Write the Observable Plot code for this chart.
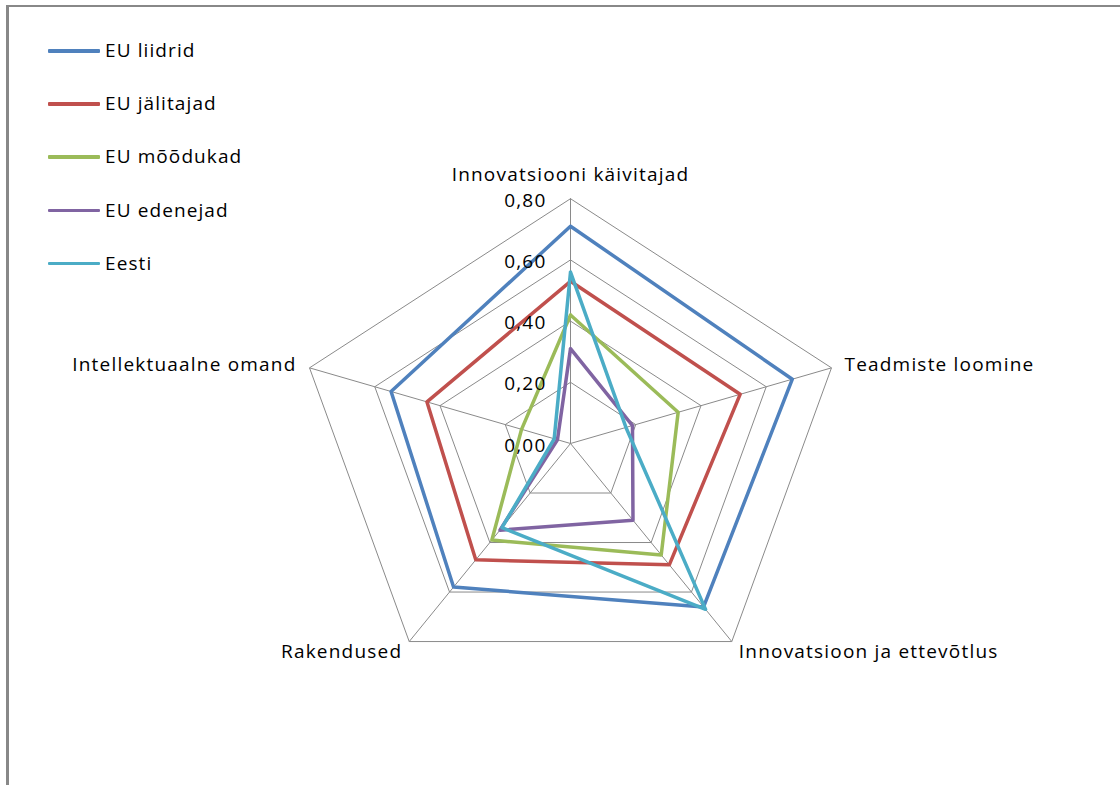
<!DOCTYPE html>
<html>
<head>
<meta charset="utf-8">
<script src="https://cdn.jsdelivr.net/npm/d3@7"></script>
<script src="https://cdn.jsdelivr.net/npm/@observablehq/plot@0.6"></script>
<style>
  html, body { margin: 0; padding: 0; background: #fff; }
  body { width: 1120px; height: 785px; position: relative; overflow: hidden; font-family: "Open Sans", sans-serif; }
  #frame { position: absolute; left: 6px; top: 5px; width: 1200px; height: 900px; border-top: 2px solid #888; border-left: 3px solid #888; pointer-events: none; }
  #chart { position: absolute; left: 0; top: 0; }
  #legend { position: absolute; left: 48px; top: 37px; }
  .item { height: 53.2px; display: flex; align-items: flex-start; }
  .item .sw { width: 52px; height: 3.5px; margin-top: 12px; margin-right: 5px; border-radius: 1px; }
  .item .lb { font-size: 19px; line-height: 26px; letter-spacing: 1.1px; color: #000; }
</style>
</head>
<body>
<div id="chart"></div>
<div id="legend"></div>
<div id="frame"></div>
<script>
// ---- data ----
const axes = ["Innovatsiooni käivitajad", "Teadmiste loomine", "Innovatsioon ja ettevõtlus", "Rakendused", "Intellektuaalne omand"];
const ticks = [0, 0.2, 0.4, 0.6, 0.8];
const tickLabels = ["0,00", "0,20", "0,40", "0,60", "0,80"];
const seriesNames = ["EU liidrid", "EU jälitajad", "EU mõõdukad", "EU edenejad", "Eesti"];
const euLiidrid   = [0.71, 0.68, 0.66, 0.58, 0.55];
const euJalitajad = [0.53, 0.52, 0.49, 0.47, 0.44];
const euMoodukad  = [0.42, 0.33, 0.45, 0.39, 0.15];
const euEdenejad  = [0.31, 0.19, 0.31, 0.35, 0.04];
const eesti       = [0.56, 0.17, 0.67, 0.34, 0.05];
const colors = ["#4F81BD", "#C0504D", "#9BBB59", "#8064A2", "#4BACC6"];

// ---- derived tables ----
const seriesValues = [euLiidrid, euJalitajad, euMoodukad, euEdenejad, eesti];
const n = axes.length;
const ang = i => (2 * Math.PI * i) / n;
const px = (r, i) => r * Math.sin(ang(i));
const py = (r, i) => r * Math.cos(ang(i));
const rMax = ticks[ticks.length - 1];

const lineData = [];
seriesNames.forEach((s, k) => {
  for (let j = 0; j <= n; j++) {
    const i = j % n;
    const v = seriesValues[k][i];
    lineData.push({series: s, x: px(v, i), y: py(v, i)});
  }
});
const gridData = [];
ticks.filter(t => t > 0).forEach(t => {
  for (let j = 0; j <= n; j++) {
    const i = j % n;
    gridData.push({t, x: px(t, i), y: py(t, i)});
  }
});
const spokes = axes.map((a, i) => ({x2: px(rMax, i), y2: py(rMax, i)}));
const tickData = ticks.map((t, i) => ({t, label: tickLabels[i]}));

// label placement styles per axis
const labelStyle = [
  {textAnchor: "middle", dx: 0, dy: -24},
  {textAnchor: "start", dx: 13, dy: -3},
  {textAnchor: "start", dx: 7, dy: 10},
  {textAnchor: "end", dx: -7, dy: 10},
  {textAnchor: "end", dx: -13, dy: -3}
];
const labelMarks = axes.map((a, i) => Plot.text([{a, x: px(rMax, i), y: py(rMax, i)}], {
  x: "x", y: "y", text: "a", fill: "#000", fontSize: 19, ...labelStyle[i]
}));

const cx = 570, cy = 443, kx = 343, ky = 306;
const chart = Plot.plot({
  width: 1120,
  height: 785,
  margin: 0,
  x: {domain: [-1, 1], range: [cx - kx, cx + kx], axis: null},
  y: {domain: [-1, 1], range: [cy + ky, cy - ky], axis: null},
  color: {domain: seriesNames, range: colors},
  style: {fontFamily: "Open Sans, sans-serif", fontSize: "19px", background: "white", letterSpacing: "1.2px"},
  marks: [
    Plot.line(gridData, {x: "x", y: "y", z: "t", stroke: "#8a8a8a", strokeWidth: 1}),
    Plot.link(spokes, {x1: 0, y1: 0, x2: "x2", y2: "y2", stroke: "#8a8a8a", strokeWidth: 1}),
    Plot.line(lineData, {x: "x", y: "y", z: "series", stroke: "series", strokeWidth: 3.5, strokeLinejoin: "round"}),
    Plot.text(tickData, {x: 0, y: "t", text: "label", textAnchor: "end", dx: -24, dy: 2, fill: "#000", fontSize: 19}),
    ...labelMarks
  ]
});
document.getElementById("chart").appendChild(chart);

// legend
const lg = document.getElementById("legend");
seriesNames.forEach((s, k) => {
  const it = document.createElement("div");
  it.className = "item";
  it.innerHTML = `<div class="sw" style="background:${colors[k]}"></div><div class="lb">${s}</div>`;
  lg.appendChild(it);
});
</script>
</body>
</html>
